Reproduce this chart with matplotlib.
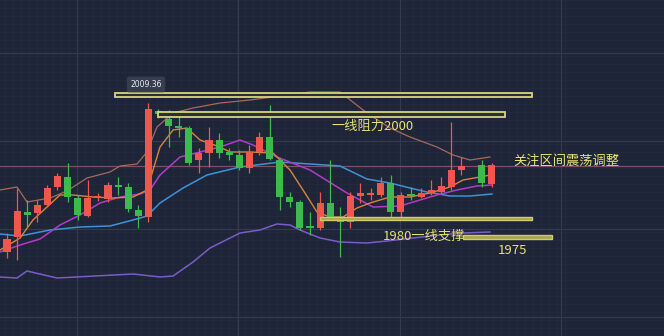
import matplotlib
matplotlib.use("Agg")
import matplotlib.pyplot as plt
from matplotlib.patches import Rectangle, FancyBboxPatch

plt.rcParams['font.family'] = ['Noto Sans CJK SC', 'DejaVu Sans']

# ---- candle data (index, open, high, low, close); None = no candle ----
opens  = [1972.0, 1975.75, 1982.0, 1981.75, 1983.75, 1988.25, 1990.75, 1985.5, 1981.0, 1985.5,
          1985.25, 1988.75, 1988.25, 1982.5, 1980.75, 2007.25, 2005.25, 2003.5, 2003.0, 1995.0,
          1996.75, 2000.0, 1997.0, 1996.25, 1993.0, 1997.0, 2000.75, 1995.0, 1985.75, 1984.5,
          1978.5, 1978.0, 1984.25, 1980.75, 1979.5, 1986.0, 1986.25, 1986.25, 1989.25, 1982.0,
          1986.5, 1985.75, 1986.75, 1987.0, 1988.25, 1992.5, None, 1993.75, 1989.0]
highs  = [1976.75, 1988.0, 1985.0, 1985.0, 1988.75, 1991.75, 1994.25, 1986.25, 1990.0, 1986.75,
          1989.5, 1990.75, 1989.25, 1983.75, 2009.36, 2007.75, 2007.5, 2007.0, 2003.5, 1998.0,
          2003.25, 2001.75, 1998.0, 1997.5, 1998.75, 2002.0, 2008.75, 1995.5, 1987.0, 1985.0,
          1982.0, 1987.0, 1995.0, 1983.25, 1987.0, 1989.25, 1988.0, 1990.75, 1991.25, 1987.0,
          1988.25, 1988.0, 1990.0, 1990.75, 2004.5, 1995.75, None, 1995.0, 1994.25]
lows   = [1970.5, 1970.0, 1978.25, 1979.5, 1983.25, 1987.5, 1984.5, 1980.0, 1980.75, 1984.75,
          1984.5, 1986.25, 1982.0, 1978.0, 1979.5, 2005.5, 1998.25, 2000.75, 1993.75, 1991.75,
          1993.25, 1995.5, 1995.0, 1992.5, 1991.75, 1996.25, 1995.0, 1982.5, 1983.25, 1977.5,
          1976.25, 1977.5, 1980.0, 1970.75, 1978.0, 1984.25, 1985.0, 1985.75, 1980.0, 1980.75,
          1985.0, 1985.5, 1986.25, 1986.75, 1987.5, 1991.25, None, 1988.25, 1988.25]
closes = [1975.25, 1982.25, 1981.25, 1983.75, 1988.0, 1991.0, 1985.75, 1981.25, 1985.5, 1986.0,
          1988.75, 1988.25, 1982.75, 1981.0, 2007.75, 2006.5, 2003.5, 2003.0, 1994.25, 1996.75,
          2000.0, 1996.75, 1996.25, 1993.0, 1997.0, 2000.75, 1995.25, 1985.75, 1984.5, 1978.0,
          1978.0, 1984.25, 1980.5, 1979.5, 1986.0, 1986.75, 1986.75, 1989.25, 1982.0, 1986.25,
          1986.0, 1986.75, 1987.5, 1988.5, 1992.5, 1993.5, None, 1989.25, 1993.75]

# ---- indicator lines (x in candle index, y in price) ----
upper_x = [-0.69, 0.99, 1.98, 4.26, 5.94, 7.92, 10.2, 11.19, 12.87, 13.86, 14.85, 16.44, 18.42,
           21.09, 24.06, 27.03, 30.0, 32.97, 35.64, 37.92, 39.9, 42.57, 44.16, 45.84, 47.82]
upper_y = [1987.5, 1988.25, 1984.5, 1985.5, 1987.25, 1990.5, 1992.0, 1993.5, 1994.0, 1997.0,
           2003.25, 2006.75, 2008.0, 2009.25, 2010.0, 2011.0, 2012.0, 2012.0, 2006.75, 2003.0,
           2000.75, 1998.25, 1996.25, 1995.0, 1995.75]
lower_x = [-0.69, 0.99, 1.98, 4.95, 12.48, 15.15, 16.44, 18.42, 20.1, 23.07, 25.05, 26.73, 28.02,
           29.0, 31.0, 32.97, 35.64, 37.62, 40.2, 42.87, 45.15, 47.82]
lower_y = [1965.75, 1965.5, 1967.25, 1965.5, 1966.5, 1965.75, 1966.0, 1969.5, 1973.0, 1976.75,
           1977.5, 1979.0, 1978.75, 1977.5, 1975.5, 1974.5, 1974.25, 1974.75, 1975.5, 1976.25,
           1976.75, 1977.0]
blue_x = [-0.69, 1.29, 4.26, 7.23, 10.2, 12.48, 13.86, 15.15, 17.43, 19.8, 23.07, 27.03, 32.97,
          35.64, 37.92, 39.9, 41.58, 43.86, 45.84, 48.02]
blue_y = [1976.5, 1976.0, 1977.5, 1978.25, 1978.5, 1980.0, 1981.0, 1984.25, 1988.0, 1991.25,
          1993.25, 1994.5, 1993.5, 1990.25, 1989.25, 1988.0, 1987.0, 1986.0, 1986.0, 1986.5]
mag_x = [-0.69, 1.29, 3.27, 5.25, 7.23, 9.21, 11.19, 13.17, 14.16, 15.15, 17.13, 19.11, 21.09,
         23.07, 24.36, 26.73, 30.0, 33.66, 36.24, 38.91, 40.89, 42.57, 44.55, 46.53, 48.02]
mag_y = [1972.0, 1973.75, 1975.25, 1978.75, 1981.25, 1984.25, 1985.75, 1986.5, 1987.5, 1991.25,
         1995.75, 1997.0, 1998.25, 2000.0, 1998.75, 1995.75, 1992.5, 1986.75, 1983.25, 1983.5,
         1985.0, 1986.25, 1987.5, 1988.5, 1988.75]
ora_x = [-0.69, 1.29, 2.57, 3.96, 5.25, 6.53, 8.51, 10.5, 12.48, 13.86, 15.15, 16.44, 17.82,
         19.11, 21.09, 22.08, 24.06, 26.34, 28.02, 29.31, 30.69, 31.98, 33.27, 34.65, 35.94,
         37.92, 39.9, 41.88, 43.86, 45.15, 46.83, 47.82]
ora_y = [1972.5, 1975.5, 1980.0, 1983.25, 1986.25, 1986.25, 1985.75, 1985.5, 1985.75, 1987.5,
         1998.25, 2002.5, 2003.0, 2000.0, 1998.25, 1997.0, 1997.0, 1996.75, 1992.5, 1987.5,
         1982.0, 1980.75, 1980.75, 1983.0, 1984.25, 1985.75, 1985.75, 1986.75, 1988.25, 1990.0,
         1990.75, 1991.25]

# ---- annotation zones: (x0, x1, y_low, y_high) ----
zone_top = (10.69, 51.98, 2010.75, 2011.75)
zone_2000 = (14.95, 49.3, 2005.75, 2007.0)
zone_1980 = (31.0, 51.98, 1980.0, 1980.75)
zone_1975 = (45.15, 53.96, 1975.25, 1976.25)
focus_level = 1993.5
high_label = "2009.36"

BG = '#1f2538'
RED = '#f0564c'
GREEN = '#3cba4e'
YEL = '#e6e272'

fig = plt.figure(figsize=(6.64, 3.36), dpi=100, facecolor=BG)
ax = fig.add_axes([0, 0, 1, 1])
ax.set_facecolor(BG)
ax.set_xlim(-0.693, 65.05)
ax.set_ylim(1951, 2035)
ax.axis('off')

# grid
for k in range(-1, 70):
    ax.axvline(k * 0.792 + 6.93 - 0.792 * 8, color='#252c3f', lw=0.5, zorder=0)
for k in range(0, 60):
    ax.axhline(1951 + k * 2.0, color='#252c3f', lw=0.5, zorder=0)
for xv in [6.93, 22.87, 38.91, 54.85]:
    ax.axvline(xv, color='#323a4e', lw=0.9, zorder=0.5)
for yv in [2021.75, 1999.75, 1977.75, 1955.75]:
    ax.axhline(yv, color='#323a4e', lw=0.9, zorder=0.5)

ax.axhline(focus_level, color='#7c5068', lw=0.9, zorder=1)

# indicator lines
ax.plot(upper_x, upper_y, color='#a8685a', lw=0.9, zorder=2)
ax.plot(lower_x, lower_y, color='#7a5cc8', lw=1.1, zorder=2)
ax.plot(blue_x, blue_y, color='#3d92d8', lw=1.1, zorder=2)
ax.plot(mag_x, mag_y, color='#b23bc8', lw=1.1, zorder=2)
ax.plot(ora_x, ora_y, color='#d9843a', lw=1.0, zorder=2)

# candles
for i in range(len(opens)):
    o, h, l, c = opens[i], highs[i], lows[i], closes[i]
    if o is None:
        continue
    col = RED if c >= o else GREEN
    ax.vlines(i, l, h, color=col, lw=0.9, zorder=3)
    bot = min(o, c)
    ht = max(abs(c - o), 0.5)
    ax.bar(i, ht, bottom=bot, width=0.7, color=col, edgecolor=col, lw=0, zorder=4)

# zones
for (x0, x1, y0, y1) in [zone_top, zone_2000]:
    ax.add_patch(Rectangle((x0, y0), x1 - x0, y1 - y0, facecolor='#2a2e35',
                           edgecolor='#d6d67a', lw=1.3, zorder=5))
for (x0, x1, y0, y1) in [zone_1980, zone_1975]:
    ax.add_patch(Rectangle((x0, y0), x1 - x0, y1 - y0, facecolor='#a8a548',
                           edgecolor='#cfcc6e', lw=1.0, zorder=5))

# labels
ax.text(13.76, 2013.9, high_label, color='#e8eaf0', fontsize=5.5, ha='center', va='center',
        family=['DejaVu Sans'], zorder=6,
        bbox=dict(boxstyle='round,pad=0.45,rounding_size=0.3', facecolor='#363d4f', edgecolor='none'))
ax.text(36.24, 2003.5, "一线阻力2000", color=YEL, fontsize=9.5, ha='center', va='center', zorder=6)
ax.text(55.35, 1994.75, "关注区间震荡调整", color=YEL, fontsize=9.5, ha='center', va='center', zorder=6)
ax.text(41.3, 1976.0, "1980一线支撑", color=YEL, fontsize=9.5, ha='center', va='center', zorder=6)
ax.text(50.0, 1972.4, "1975", color=YEL, fontsize=9.5, ha='center', va='center', zorder=6)

fig.savefig('out.png', dpi=100, facecolor=BG)
